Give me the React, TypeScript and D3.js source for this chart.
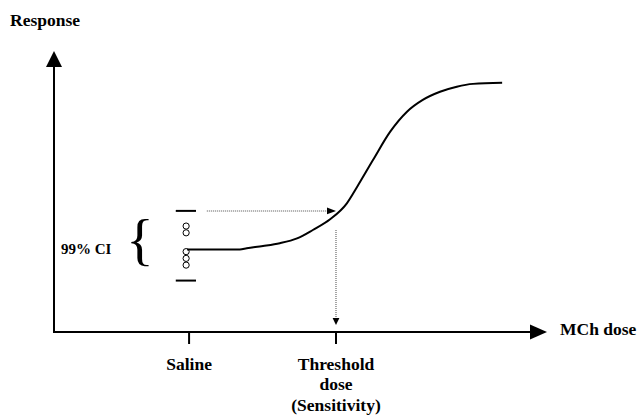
import * as d3 from 'd3'

// dose-response curve (arbitrary units, 0-100 on both axes)
const curveDose = [27.0, 37.7, 39.1, 42.4, 45.8, 49.3, 52.5, 56.0, 59.4, 61.5, 64.7, 68.2, 71.6, 74.8, 78.3, 81.7, 85.0, 90.9]
const curveResponse = [29.4, 29.4, 29.8, 30.6, 31.6, 33.3, 36.3, 40.1, 45.8, 51.7, 61.2, 71.3, 78.4, 82.6, 85.5, 87.3, 88.3, 88.7]

// saline replicate responses
const salineDose = 26.8
const salineUpper = [37.7, 35.3]
const salineLower = [28.6, 26.2, 23.8]
const ciBounds = [43.1, 18.3]
const ciBarDose = [24.7, 28.8]

const salineTick = { dose: 27.4, lines: ['Saline'] }
const thresholdTick = { dose: 57.2, lines: ['Threshold', 'dose', '(Sensitivity)'] }
const thresholdResponse = 43.1
const hArrowStart = 31.0
const vArrowRange = [36.3, 2.5]

const W = 638
const H = 415
const FONT = "'Liberation Serif', Tinos, 'Times New Roman', Times, 'DejaVu Serif', serif"

export default function App() {
  const x = d3.scaleLinear().domain([0, 100]).range([54, 547])
  const y = d3.scaleLinear().domain([0, 100]).range([332, 51])

  const pts = curveDose.map((d, i) => [d, curveResponse[i]] as [number, number])
  const line = d3.line<[number, number]>()
    .x(d => x(d[0]))
    .y(d => y(d[1]))
    .curve(d3.curveMonotoneX)

  const x0 = x(0)
  const y0 = y(0)
  const xTip = x(100)
  const yTip = y(100)
  const ty = y(thresholdResponse)
  const tx = x(thresholdTick.dose)

  const ticks = [salineTick, thresholdTick]

  return (
    <svg width={W} height={H}
      style={{ position: 'absolute', left: 0, top: 0, background: '#fff', fontFamily: FONT, fontWeight: 'bold' }}>
      {/* axes */}
      <line x1={x0} x2={x0} y1={y0 + 1} y2={yTip + 14} stroke="#000" strokeWidth={2} />
      <polygon points={`${x0},${yTip} ${x0 - 8},${yTip + 16} ${x0 + 8},${yTip + 16}`} fill="#000" />
      <line x1={x0 - 1} x2={xTip - 15} y1={y0} y2={y0} stroke="#000" strokeWidth={2} />
      <polygon points={`${xTip},${y0} ${xTip - 17},${y0 - 7.5} ${xTip - 17},${y0 + 7.5}`} fill="#000" />

      {/* ticks + labels */}
      {ticks.map((t, i) => (
        <g key={i}>
          <line x1={x(t.dose)} x2={x(t.dose)} y1={y0} y2={y0 + 12} stroke="#000" strokeWidth={2} />
          {t.lines.map((s, j) => (
            <text key={j} x={x(t.dose)} y={369.5 + j * 20.5} textAnchor="middle" fontSize={17.5}>{s}</text>
          ))}
        </g>
      ))}

      <text x={10} y={25.5} fontSize={17.5}>Response</text>
      <text x={560} y={335} fontSize={17.5}>MCh dose</text>

      {/* CI label and brace */}
      <text x={61} y={254} fontSize={15}>99% CI</text>
      <text x={126} y={258.5} fontSize={58} style={{ fontWeight: 'normal' }}>{'{'}</text>

      {/* CI bars */}
      {ciBounds.map((c, i) => (
        <line key={i} x1={x(ciBarDose[0])} x2={x(ciBarDose[1])} y1={y(c)} y2={y(c)} stroke="#000" strokeWidth={2} />
      ))}

      {/* saline replicates */}
      {[...salineUpper, ...salineLower].map((r, i) => (
        <circle key={i} cx={x(salineDose)} cy={y(r)} r={3.1} fill="#fff" stroke="#000" strokeWidth={1} />
      ))}

      {/* curve */}
      <path d={line(pts) ?? ''} fill="none" stroke="#000" strokeWidth={2} />

      {/* dotted guide arrows */}
      <line x1={x(hArrowStart)} x2={tx - 8} y1={ty} y2={ty} stroke="#888" strokeWidth={1.5} strokeDasharray="1,1" />
      <polygon points={`${tx},${ty} ${tx - 9},${ty - 3.4} ${tx - 9},${ty + 3.4}`} fill="#000" />
      <line x1={tx} x2={tx} y1={y(vArrowRange[0])} y2={y(vArrowRange[1]) - 6} stroke="#888" strokeWidth={1.5} strokeDasharray="1,1" />
      <polygon points={`${tx},${y(vArrowRange[1])} ${tx - 3.4},${y(vArrowRange[1]) - 7} ${tx + 3.4},${y(vArrowRange[1]) - 7}`} fill="#000" />
    </svg>
  )
}
